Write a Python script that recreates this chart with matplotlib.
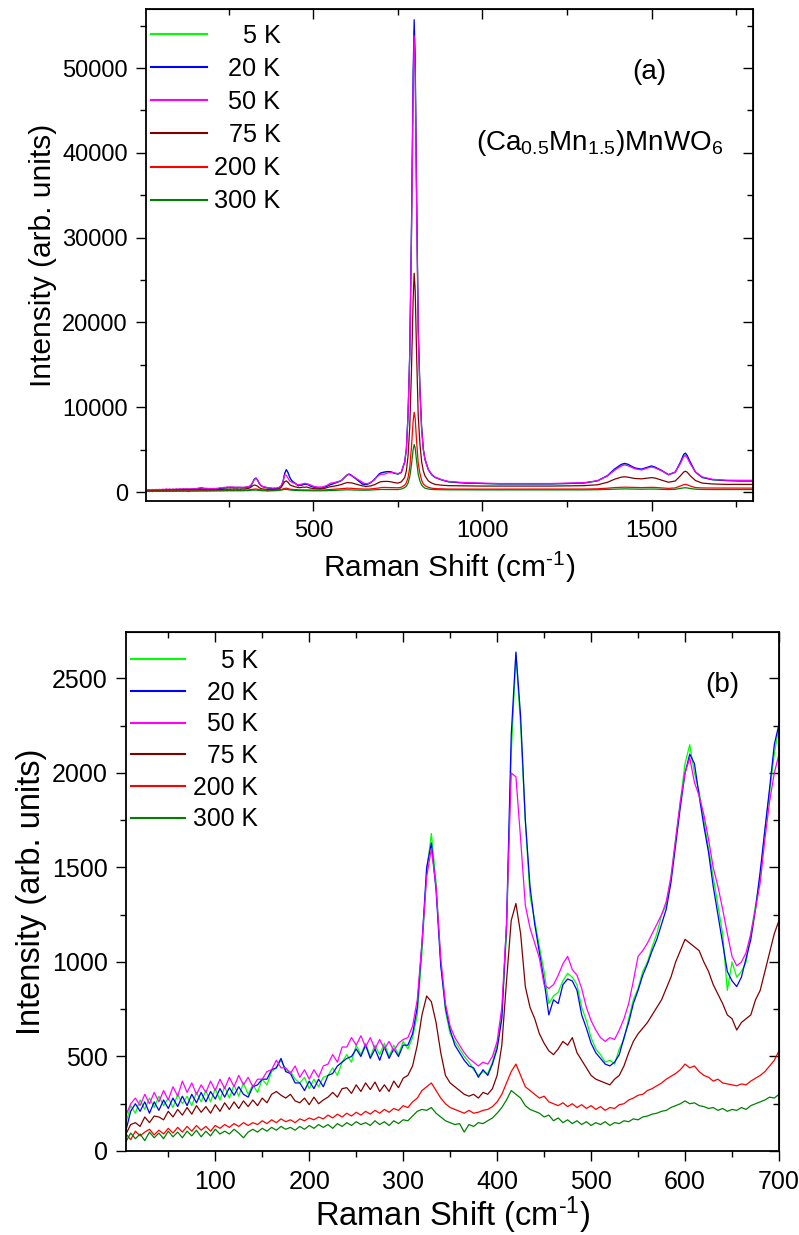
import numpy as np
import matplotlib
matplotlib.use('Agg')
import matplotlib.pyplot as plt
from matplotlib.ticker import MultipleLocator

plt.rcParams['font.family'] = ['Liberation Sans', 'DejaVu Sans']
plt.rcParams['mathtext.fontset'] = 'custom'
plt.rcParams['mathtext.rm'] = 'Liberation Sans'
plt.rcParams['mathtext.it'] = 'Liberation Sans:italic'
plt.rcParams['mathtext.default'] = 'regular'

# ---------------- data ----------------
labels = ['5 K', '20 K', '50 K', '75 K', '200 K', '300 K']
colors = ['#00FF00', '#0000FF', '#FF00FF', '#800000', '#FF0000', '#008000']

# low-frequency grid (shown in both panels), 5..700 cm-1
x_low = np.arange(5, 705, 5)

y_low_5K = [
    150, 240, 200, 270, 220, 280, 230, 290, 240, 280, 230, 300, 250, 290, 240, 310, 260, 320, 260, 330,
    270, 340, 280, 350, 290, 360, 300, 350, 310, 380, 350, 420, 440, 480, 430, 420, 380, 360, 390, 330,
    380, 340, 390, 400, 440, 400, 470, 510, 470, 560, 510, 570, 500, 560, 510, 570, 500, 560, 510, 580,
    540, 600, 720, 1050, 1480, 1680, 1420, 1000, 740, 620, 580, 540, 500, 470, 430, 400, 420, 410, 470, 560,
    720, 1150, 2100, 2630, 2250, 1750, 1350, 1220, 1080, 950, 780, 820, 840, 900, 940, 920, 880, 760, 690, 600,
    540, 510, 470, 480, 460, 540, 590, 700, 800, 860, 950, 1000, 1080, 1150, 1250, 1300, 1450, 1650, 1850, 2050,
    2150, 2000, 1900, 1750, 1600, 1450, 1300, 1150, 850, 1000, 920, 950, 1000, 1150, 1300, 1450, 1700, 1900, 2100, 2250]
y_low_20K = [
    110, 210, 250, 210, 260, 200, 260, 215, 270, 225, 280, 235, 290, 240, 300, 255, 310, 260, 315, 275,
    330, 285, 335, 295, 340, 300, 285, 340, 350, 380, 380, 430, 440, 490, 420, 410, 360, 360, 320, 370,
    330, 380, 340, 400, 410, 450, 470, 490, 500, 540, 500, 560, 490, 540, 480, 550, 490, 540, 500, 560,
    560, 620, 760, 1100, 1500, 1630, 1380, 980, 760, 640, 560, 520, 480, 450, 440, 390, 430, 400, 460, 540,
    700, 1200, 2200, 2640, 2300, 1750, 1400, 1200, 1050, 900, 720, 800, 780, 880, 910, 900, 850, 720, 650, 570,
    520, 490, 460, 450, 470, 510, 600, 680, 780, 850, 930, 990, 1060, 1120, 1200, 1280, 1420, 1620, 1820, 2000,
    2100, 2050, 1880, 1720, 1580, 1400, 1250, 1100, 950, 900, 870, 920, 1020, 1120, 1280, 1480, 1700, 1920, 2150, 2260]
y_low_50K = [
    190, 250, 280, 240, 300, 250, 310, 260, 320, 270, 340, 290, 370, 310, 360, 300, 350, 310, 370, 320,
    380, 330, 390, 340, 400, 350, 390, 340, 380, 380, 420, 430, 480, 440, 440, 410, 450, 390, 430, 380,
    430, 390, 450, 460, 510, 470, 550, 550, 600, 560, 610, 550, 600, 540, 590, 540, 580, 530, 570, 590,
    600, 660, 800, 1100, 1450, 1600, 1400, 1020, 780, 660, 600, 560, 520, 490, 470, 450, 470, 460, 500, 580,
    760, 1200, 2000, 1980, 1650, 1300, 1180, 1100, 1020, 880, 860, 880, 930, 990, 1030, 960, 930, 860, 760, 690,
    640, 600, 580, 600, 590, 640, 700, 780, 900, 1030, 1060, 1100, 1150, 1200, 1250, 1320, 1450, 1650, 1850, 2000,
    2080, 1950, 1880, 1780, 1650, 1500, 1400, 1280, 1150, 1030, 980, 1000, 1050, 1150, 1280, 1420, 1650, 1850, 2000, 2100]
y_low_75K = [
    90, 140, 150, 130, 180, 150, 185, 180, 165, 210, 180, 220, 190, 230, 195, 240, 205, 235, 200, 245,
    210, 255, 220, 260, 225, 265, 235, 270, 240, 280, 255, 300, 315, 295, 280, 300, 265, 255, 280, 245,
    285, 250, 270, 285, 310, 285, 330, 335, 305, 350, 315, 360, 325, 365, 315, 350, 315, 370, 335, 385,
    400, 450, 560, 720, 820, 790, 680, 520, 400, 360, 340, 320, 300, 290, 300, 280, 310, 300, 330, 400,
    560, 900, 1220, 1310, 1150, 870, 760, 700, 620, 570, 530, 510, 540, 580, 560, 600, 520, 480, 440, 400,
    380, 370, 360, 350, 380, 400, 450, 520, 580, 620, 650, 680, 720, 760, 800, 860, 920, 1000, 1060, 1120,
    1100, 1080, 1060, 1000, 950, 880, 830, 780, 720, 700, 640, 680, 700, 720, 800, 850, 950, 1050, 1150, 1220]
y_low_200K = [
    90, 60, 105, 80, 100, 115, 85, 110, 90, 120, 95, 125, 100, 130, 105, 135, 110, 130, 105, 135,
    120, 140, 125, 145, 130, 150, 135, 150, 140, 160, 145, 165, 150, 170, 155, 165, 150, 170, 160, 175,
    165, 180, 170, 190, 175, 195, 180, 200, 185, 205, 190, 210, 195, 215, 200, 220, 205, 225, 215, 240,
    230, 260, 280, 320, 340, 360, 320, 280, 250, 230, 220, 210, 200, 215, 200, 205, 215, 220, 235, 260,
    300, 360, 420, 460, 400, 340, 320, 300, 280, 290, 260, 250, 240, 255, 235, 250, 230, 245, 225, 240,
    220, 235, 215, 230, 225, 245, 250, 270, 280, 295, 300, 320, 330, 345, 360, 380, 395, 410, 430, 460,
    440, 450, 420, 400, 390, 370, 380, 360, 355, 350, 345, 355, 350, 370, 385, 400, 420, 450, 480, 530]
y_low_300K = [
    50, 95, 65, 90, 55, 100, 70, 95, 65, 105, 75, 100, 70, 105, 80, 110, 75, 105, 80, 115,
    90, 105, 90, 115, 95, 70, 100, 115, 100, 120, 105, 125, 110, 130, 115, 125, 110, 130, 115, 135,
    120, 140, 125, 140, 120, 145, 130, 150, 135, 155, 140, 150, 135, 160, 140, 155, 135, 160, 145, 165,
    160, 185, 210, 220, 215, 230, 200, 180, 160, 150, 140, 145, 100, 140, 130, 150, 145, 160, 175, 200,
    230, 270, 320, 300, 280, 240, 220, 210, 200, 180, 190, 160, 175, 150, 165, 145, 160, 140, 155, 135,
    150, 140, 155, 135, 150, 145, 160, 155, 170, 165, 180, 185, 195, 200, 210, 215, 230, 240, 250, 265,
    250, 255, 240, 235, 225, 230, 215, 225, 210, 220, 215, 230, 220, 240, 250, 260, 270, 285, 280, 300]

# high-frequency part (panel a only), 710..1800 cm-1
x_high = [710, 720, 730, 740, 750, 760, 770, 775, 780, 785,
          790, 795, 798, 801, 805, 810, 815, 820, 825, 830,
          840, 850, 860, 880, 900, 950, 1000, 1050, 1100, 1150,
          1200, 1250, 1300, 1340, 1370, 1390, 1410, 1420, 1430, 1450,
          1470, 1490, 1500, 1510, 1530, 1550, 1570, 1585, 1595, 1600,
          1605, 1615, 1630, 1650, 1680, 1720, 1760, 1800]
y_high_5K = [2350, 2400, 2350, 2200, 2100, 2300, 3500, 5000, 9000, 16000,
             30000, 48000, 54500, 50000, 35000, 19000, 12000, 7500, 5000, 3800,
             2600, 2000, 1700, 1400, 1200, 1050, 1000, 950, 950, 950,
             950, 1000, 1050, 1300, 1900, 2600, 3150, 3300, 3200, 2800,
             2650, 2900, 3000, 2900, 2500, 2000, 2300, 3400, 4300, 4450,
             4200, 3400, 2300, 1700, 1450, 1350, 1300, 1300]
y_high_20K = [2350, 2420, 2380, 2220, 2120, 2320, 3550, 5100, 9300, 16500,
              31000, 49500, 55700, 51500, 36000, 19500, 12300, 7700, 5100, 3900,
              2650, 2050, 1720, 1420, 1200, 1050, 1000, 960, 960, 960,
              960, 1000, 1060, 1320, 1950, 2700, 3250, 3380, 3280, 2850,
              2700, 2950, 3080, 2950, 2550, 2050, 2350, 3500, 4450, 4600,
              4350, 3500, 2350, 1720, 1450, 1350, 1300, 1300]
y_high_50K = [2100, 2250, 2300, 2250, 2150, 2350, 3550, 5050, 9100, 16200,
              30000, 47500, 53800, 49500, 34500, 18800, 11900, 7400, 5000, 3800,
              2650, 2050, 1750, 1450, 1250, 1100, 1050, 1000, 1000, 1000,
              1000, 1050, 1100, 1330, 1900, 2550, 3050, 3200, 3100, 2750,
              2600, 2850, 2950, 2850, 2500, 2050, 2350, 3350, 4150, 4300,
              4050, 3300, 2350, 1780, 1500, 1400, 1380, 1380]
y_high_75K = [1250, 1250, 1200, 1100, 1050, 1200, 1700, 2500, 4300, 7700,
              14300, 22700, 25800, 23800, 16600, 9000, 5700, 3600, 2500, 1900,
              1300, 1050, 900, 800, 750, 720, 700, 700, 700, 700,
              700, 720, 750, 850, 1150, 1500, 1750, 1800, 1750, 1600,
              1550, 1650, 1700, 1650, 1400, 1150, 1300, 1900, 2350, 2450,
              2350, 1900, 1350, 1050, 950, 900, 900, 900]
y_high_200K = [540, 530, 520, 500, 500, 560, 800, 1100, 1700, 2900,
               5300, 8400, 9400, 8700, 6100, 3400, 2200, 1400, 950, 750,
               550, 450, 400, 370, 350, 340, 340, 340, 340, 340,
               340, 340, 350, 380, 450, 520, 560, 570, 560, 530,
               520, 540, 550, 540, 480, 430, 480, 700, 860, 900,
               860, 700, 520, 480, 470, 470, 460, 460]
y_high_300K = [300, 310, 300, 290, 290, 350, 520, 700, 1050, 1800,
               3200, 5000, 5600, 5200, 3700, 2100, 1300, 850, 600, 450,
               350, 300, 280, 270, 260, 250, 250, 250, 250, 250,
               250, 250, 250, 270, 310, 340, 360, 370, 360, 340,
               330, 345, 350, 345, 310, 290, 320, 420, 490, 500,
               480, 410, 330, 300, 290, 290, 290, 290]

low_series = [y_low_5K, y_low_20K, y_low_50K, y_low_75K, y_low_200K, y_low_300K]
high_series = [y_high_5K, y_high_20K, y_high_50K, y_high_75K, y_high_200K, y_high_300K]

XLABEL = 'Raman Shift (cm$^{\\text{-1}}$)'
YLABEL = 'Intensity (arb. units)'

# ---------------- figure ----------------
fig = plt.figure(figsize=(7.99, 12.35), dpi=100)
axa = fig.add_axes([146/799, 1-501/1235, (753-146)/799, (501-9)/1235])
axb = fig.add_axes([126/799, 1-1151/1235, (779-126)/799, (1151-632)/1235])


def style(ax, xmaj, xmin, ymaj, ymin, fs):
    for s in ax.spines.values():
        s.set_linewidth(1.3)
    ax.xaxis.set_major_locator(MultipleLocator(xmaj))
    ax.xaxis.set_minor_locator(MultipleLocator(xmin))
    ax.yaxis.set_major_locator(MultipleLocator(ymaj))
    ax.yaxis.set_minor_locator(MultipleLocator(ymin))
    ax.tick_params(which='both', direction='out', top=False, right=False,
                   width=1.0, labelsize=fs)
    ax.tick_params(axis='x', which='both', pad=7)
    ax.tick_params(axis='y', which='both', pad=6)
    ax.tick_params(which='major', length=7)
    ax.tick_params(which='minor', length=4)
    sx = ax.secondary_xaxis('top')
    sx.xaxis.set_major_locator(MultipleLocator(xmaj))
    sx.xaxis.set_minor_locator(MultipleLocator(xmin))
    sx.tick_params(which='both', direction='in', labeltop=False, width=1.0)
    sx.tick_params(which='major', length=7)
    sx.tick_params(which='minor', length=4)
    sy = ax.secondary_yaxis('right')
    sy.yaxis.set_major_locator(MultipleLocator(ymaj))
    sy.yaxis.set_minor_locator(MultipleLocator(ymin))
    sy.tick_params(which='both', direction='in', labelright=False, width=1.0)
    sy.tick_params(which='major', length=7)
    sy.tick_params(which='minor', length=4)


def right_align(leg):
    fig.canvas.draw()
    r = fig.canvas.get_renderer()
    widths = [t.get_window_extent(r).width for t in leg.get_texts()]
    w = max(widths)
    for t, wi in zip(leg.get_texts(), widths):
        t.set_position((w - wi, 0))


# ---- panel (a) ----
for lab, col, ylo, yhi in zip(labels, colors, low_series, high_series):
    axa.plot(np.concatenate([x_low, x_high]), np.concatenate([ylo, yhi]),
             color=col, lw=0.9, label=lab)
axa.set_xlim(5, 1800)
axa.set_ylim(-1060, 56960)
style(axa, 500, 250, 10000, 5000, 17)
axa.set_xlabel(XLABEL, fontsize=21.5, labelpad=5)
axa.set_ylabel(YLABEL, fontsize=21.5, labelpad=4)
axa.text(0.83, 0.872, '(a)', transform=axa.transAxes, fontsize=20,
         ha='center', va='center')
axa.text(0.748, 0.728, '(Ca$_{0.5}$Mn$_{1.5}$)MnWO$_6$', transform=axa.transAxes,
         fontsize=20, ha='center', va='center')
lega = axa.legend(loc='upper left', bbox_to_anchor=(5/607, 1-15/492), frameon=False,
                  fontsize=18.2, handlelength=2.2, handletextpad=0.3,
                  labelspacing=0.36, borderpad=0, borderaxespad=0)
for h in lega.get_lines():
    h.set_linewidth(1.5)

# ---- panel (b) ----
for lab, col, ylo in zip(labels, colors, low_series):
    axb.plot(x_low, ylo, color=col, lw=0.9, label=lab)
axb.set_xlim(5, 700)
axb.set_ylim(0, 2746)
style(axb, 100, 50, 500, 250, 18)
axb.set_xlabel(XLABEL, fontsize=23.5, labelpad=0)
axb.set_ylabel(YLABEL, fontsize=23.5, labelpad=4)
axb.text(0.913, 0.897, '(b)', transform=axb.transAxes, fontsize=20,
         ha='center', va='center')
legb = axb.legend(loc='upper left', bbox_to_anchor=(5/653, 1-17/519), frameon=False,
                  fontsize=17.8, handlelength=2.2, handletextpad=0.3,
                  labelspacing=0.31, borderpad=0, borderaxespad=0)
for h in legb.get_lines():
    h.set_linewidth(1.5)

right_align(lega)
right_align(legb)

fig.savefig('out.png', dpi=100)
